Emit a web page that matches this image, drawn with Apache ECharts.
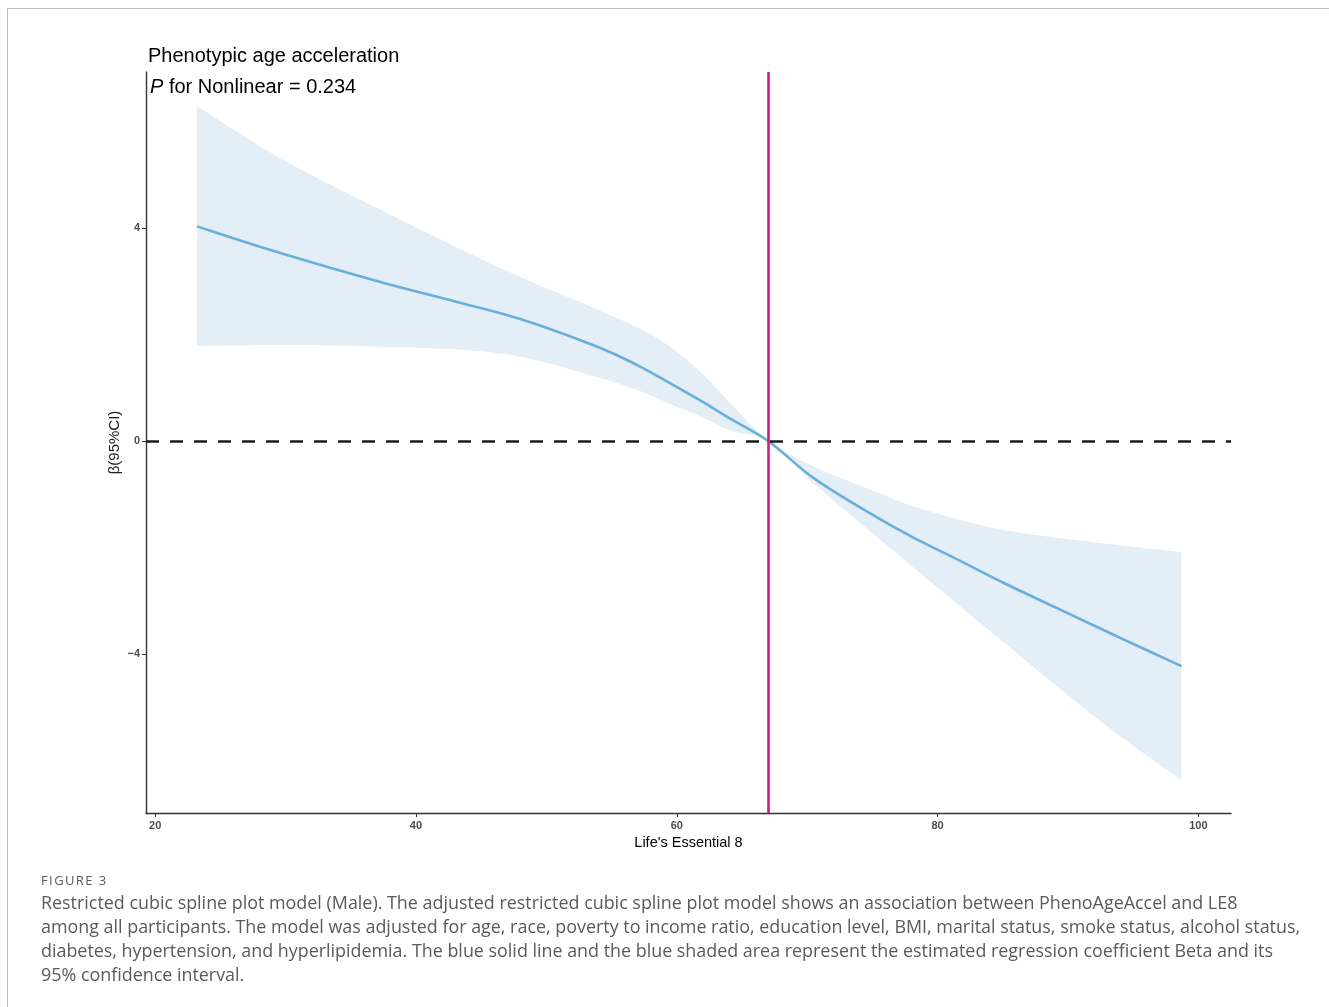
<!DOCTYPE html>
<html>
<head>
<meta charset="utf-8">
<script src="https://cdn.jsdelivr.net/npm/echarts@6/dist/echarts.min.js"></script>
<style>
  html, body { margin: 0; padding: 0; background: #fff; }
  #frame { position: absolute; left: 7px; top: 8px; width: 1400px; height: 1100px;
           border-top: 1px solid #bdbdbd; border-left: 1px solid #bdbdbd; }
  #chart0 { position: absolute; left: 0; top: 0; width: 1329px; height: 1007px; }
  #caption { position: absolute; left: 41px; top: 870px; font-family: 'Open Sans', 'Lato', sans-serif;
             color: #5a5a5a; white-space: nowrap; }
  #caption .fig { font-size: 13px; line-height: 20px; letter-spacing: 1.4px; }
  #caption .txt { font-size: 17.9px; line-height: 24px; }
</style>
</head>
<body>
<div id="frame"></div>
<div id="chart0"></div>
<div id="caption">
  <div class="fig">FIGURE 3</div>
  <div class="txt">Restricted cubic spline plot model (Male). The adjusted restricted cubic spline plot model shows an association between PhenoAgeAccel and LE8</div>
  <div class="txt">among all participants. The model was adjusted for age, race, poverty to income ratio, education level, BMI, marital status, smoke status, alcohol status,</div>
  <div class="txt">diabetes, hypertension, and hyperlipidemia. The blue solid line and the blue shaded area represent the estimated regression coefficient Beta and its</div>
  <div class="txt">95% confidence interval.</div>
</div>
<script>
(function () {
  // LE8 score positions
  var le8 = [23.2, 29.6, 37.2, 43, 48, 54, 57, 59.3, 61.8, 64.3, 67, 70.5, 74.6, 78, 81.7, 85, 89.4, 94, 98.7]
  var beta = [4.03, 3.53, 2.99, 2.62, 2.29, 1.76, 1.42, 1.11, 0.76, 0.39, 0, -0.70, -1.33, -1.80, -2.25, -2.66, -3.17, -3.70, -4.23]
  var upper = [6.29, 5.31, 4.35, 3.65, 3.08, 2.46, 2.13, 1.80, 1.30, 0.66, 0, -0.48, -0.89, -1.22, -1.48, -1.67, -1.83, -1.96, -2.09]
  var lower = [1.78, 1.80, 1.77, 1.72, 1.58, 1.19, 0.95, 0.71, 0.46, 0.18, 0, -0.80, -1.65, -2.35, -3.10, -3.77, -4.66, -5.55, -6.37]
  var xTicks = [20, 40, 60, 80, 100]
  var yTicks = [-4, 0, 4]
  var knot = 67

  var font = 'Liberation Sans, Arial, sans-serif'

  // catmull-rom through already projected points, as bezier path commands
  function curve(pts) {
    var d = ''
    for (var i = 0; i < pts.length - 1; i++) {
      var p0 = pts[i - 1] || pts[i], p1 = pts[i], p2 = pts[i + 1], p3 = pts[i + 2] || pts[i + 1]
      var c1 = [p1[0] + (p2[0] - p0[0]) / 6, p1[1] + (p2[1] - p0[1]) / 6]
      var c2 = [p2[0] - (p3[0] - p1[0]) / 6, p2[1] - (p3[1] - p1[1]) / 6]
      d += ' C' + c1[0] + ',' + c1[1] + ' ' + c2[0] + ',' + c2[1] + ' ' + p2[0] + ',' + p2[1]
    }
    return d
  }

  function project(api, xs, ys) {
    return xs.map(function (x, i) { return api.coord([x, ys[i]]) })
  }

  function renderBand(params, api) {
    var top = project(api, le8, upper)
    var bot = project(api, le8, lower).reverse()
    var d = 'M' + top[0][0] + ',' + top[0][1] + curve(top) +
      ' L' + bot[0][0] + ',' + bot[0][1] + curve(bot) + ' Z'
    return { type: 'path', shape: { pathData: d }, style: { fill: '#e3eef7', stroke: null } }
  }

  function renderFit(params, api) {
    var pts = project(api, le8, beta)
    var d = 'M' + pts[0][0] + ',' + pts[0][1] + curve(pts)
    return { type: 'path', shape: { pathData: d }, style: { fill: null, stroke: '#6aaedb', lineWidth: 2.6 } }
  }

  var chart0 = echarts.init(document.getElementById('chart0'))
  var option0 = {
    animation: false,
    textStyle: { fontFamily: font },
    title: [{
      text: 'Phenotypic age acceleration',
      left: 148,
      top: 46,
      padding: 0,
      textStyle: { fontFamily: font, fontSize: 20, fontWeight: 'normal', color: '#000' }
    }, {
      text: '{i|P} for Nonlinear = 0.234',
      left: 150,
      top: 77,
      padding: 0,
      textStyle: {
        fontFamily: font, fontSize: 20, fontWeight: 'normal', color: '#000',
        rich: { i: { fontFamily: font, fontSize: 20, fontStyle: 'italic', color: '#000' } }
      }
    }],
    grid: { left: 146, right: 98, top: 72, bottom: 194, containLabel: false },
    xAxis: {
      type: 'value',
      min: 19.3,
      max: 102.5,
      name: "Life's Essential 8",
      nameLocation: 'middle',
      nameGap: 22,
      nameTextStyle: { fontFamily: font, fontSize: 14.5, color: '#000' },
      axisLine: { onZero: false, lineStyle: { color: '#333', width: 1.4 } },
      axisTick: { show: true, length: 4, lineStyle: { color: '#333' }, customValues: xTicks },
      axisLabel: { customValues: xTicks, margin: 7, fontSize: 11, fontWeight: 'bold', color: '#4d4d4d', fontFamily: font },
      splitLine: { show: false }
    },
    yAxis: {
      type: 'value',
      min: -6.99,
      max: 6.93,
      name: 'β(95%CI)',
      nameLocation: 'middle',
      nameRotate: 90,
      nameGap: 24,
      nameMoveOverlap: false,
      nameTextStyle: { fontFamily: font, fontSize: 15, color: '#222' },
      axisLine: { show: true, onZero: false, lineStyle: { color: '#333', width: 1.4 } },
      axisTick: { show: true, length: 4, lineStyle: { color: '#333' }, customValues: yTicks },
      axisLabel: {
        customValues: yTicks, margin: 6, fontSize: 11, fontWeight: 'bold', color: '#4d4d4d', fontFamily: font,
        formatter: function (v) { return v < 0 ? '\u2212' + Math.abs(v) : String(v) }
      },
      splitLine: { show: false }
    },
    series: [{
      name: 'band',
      type: 'custom',
      renderItem: renderBand,
      data: [[le8[0], upper[0]]],
      silent: true,
      z: 1
    }, {
      name: 'beta',
      type: 'custom',
      renderItem: renderFit,
      data: [[le8[0], beta[0]]],
      silent: true,
      z: 3
    }, {
      name: 'refs',
      type: 'line',
      data: [],
      z: 2,
      markLine: {
        silent: true,
        symbol: 'none',
        label: { show: false },
        data: [
          { yAxis: 0, lineStyle: { color: '#1a1a1a', width: 2.6, type: [13, 11] } },
          { xAxis: knot, lineStyle: { color: '#d4188c', width: 2.6, type: 'solid' } }
        ]
      }
    }]
  }
  chart0.setOption(option0)
})()
</script>
</body>
</html>
